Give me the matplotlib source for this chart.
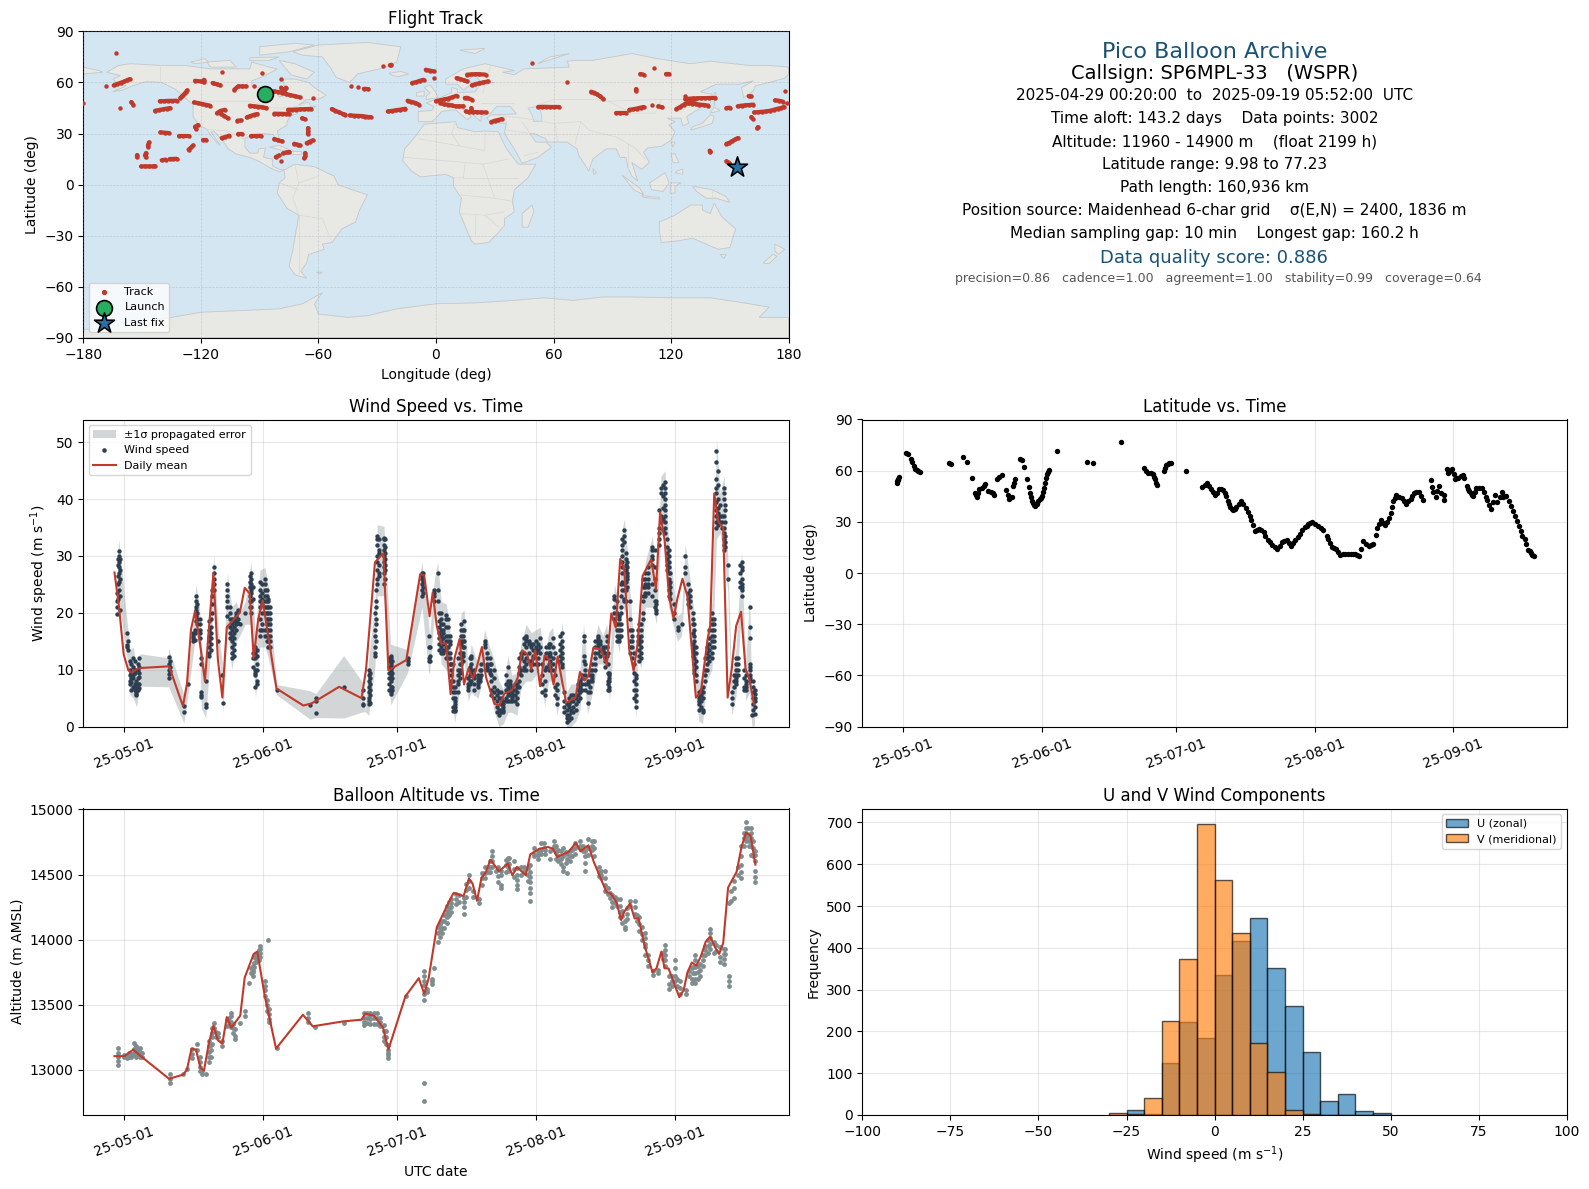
"""Pico balloon flight summary: track map, stats, wind, latitude, altitude, U/V histogram."""
from datetime import datetime, timedelta

import matplotlib
matplotlib.use("Agg")
import matplotlib.dates as mdates
import matplotlib.pyplot as plt
import numpy as np

# ---------------------------------------------------------------------------
# Data. Days count from 2025-05-01.
# ---------------------------------------------------------------------------
OCEAN = "#d4e6f1"
LAND = "#e8e8e4"
COAST = "#c4c8ca"
RED = "#c0392b"
NAVY = "#2c3e50"
GREY = "#7f8c8d"
TITLE_BLUE = "#1a5276"

land_polygons = [
    # North America
    [(-168,66),(-162,70),(-156,71),(-140,70),(-128,70),(-115,68),(-108,68),(-95,68),(-94,72),(-85,69),(-81,68),
     (-87,64),(-94,61),(-94,58),(-88,56.5),(-82,55),(-80,51.5),(-78,52),(-77,56),(-78,62),(-72,62),(-65,60),
     (-62,57),(-56,52.5),(-60,50),(-66,50),(-70,47),(-65,48.5),(-64,46),(-61,46),(-66,44),(-70,43),(-71,41.5),
     (-74,40.5),(-76,37),(-76,35),(-81,31.5),(-80,27),(-80.5,25),(-82,27),(-83,29.5),(-89,30),(-94,29.5),
     (-97.5,27),(-97.5,22),(-95,18.5),(-91,18.5),(-90.5,21),(-87,21.5),(-88,16),(-83.5,15),(-83.5,11),(-80,9),
     (-77.5,8.5),(-80,7.5),(-85,10),(-90,13.5),(-95,16),(-102,18),(-106,21),(-109,26),(-113,31),(-115,31),
     (-110,23),(-112,25),(-115,29),(-117,32.5),(-121,35),(-124,40),(-124,47),(-128,51),(-133,56),(-140,60),
     (-148,60.5),(-155,58),(-160,55.5),(-165,54.5),(-158,58),(-162,59),(-165,62),(-161,64)],
    # Arctic islands
    [(-80,73),(-72,71),(-62,66),(-66,62),(-74,64.5),(-78,70)],
    [(-117,72),(-105,73),(-102,69),(-115,69)],
    [(-90,76),(-75,78),(-62,82),(-72,83),(-90,81)],
    [(-125,72),(-118,74),(-116,72),(-123,71)],
    [(-95,74.5),(-80,75),(-85,73),(-95,73)],
    # Greenland, Iceland
    [(-73,78),(-60,82),(-35,83.5),(-18,81),(-20,72),(-27,68.5),(-40,65),(-44,60),(-51,63),(-54,69),(-58,75),(-68,76)],
    [(-24,65.5),(-18,66.5),(-14,65),(-19,63.5),(-22,64)],
    # Caribbean
    [(-85,22),(-80,23),(-74,20),(-78,20)],
    [(-74,19.5),(-69,19.5),(-69,18),(-74,18)],
    # South America
    [(-77.5,8.5),(-72,12),(-62,10.5),(-52,5),(-50,0),(-44,-2.5),(-35,-6),(-39,-15),(-41,-22),(-48,-26),(-53,-34),
     (-58,-35),(-57,-38),(-65,-41),(-66,-46),(-69,-51),(-66,-55),(-72,-53),(-75,-48),(-73,-38),(-70,-18),(-76,-14),
     (-81,-5),(-80,1),(-77,4)],
    # Africa
    [(-6,35.5),(10,37),(11,33.5),(20,31),(25,31.5),(32,31),(33,28),(36,21),(42,12),(51,12),(47,4),(40,-3),(39,-10),
     (40,-16),(35,-20),(35,-24),(32,-28),(27,-34),(20,-35),(18,-33),(14,-22),(12,-16),(13,-8),(9,-1),(9,4),(5,6),
     (-4,5),(-8,4.5),(-13,8.5),(-17,14),(-16,21),(-10,29)],
    # Eurasia
    [(-9,37),(-9,43),(-2,43.5),(-1,46),(-5,48),(2,51),(8,54),(8,57),(11,56),(11,54),(20,54.5),(22,58),(30,60),(23,60),
     (21,63),(25,65.5),(22,66),(17,62),(18,59),(14,55.5),(11,59),(5,59),(5,62),(14,68),(25,71),(40,67),(34,66),
     (40,64.5),(45,68),(68,69),(67,72.5),(72,73),(80,73),(100,77),(113,74),(130,71),(140,72.5),(160,70),(170,70),
     (180,69),(180,65),(178,62.5),(170,60),(163,58),(162,55),(157,51),(156,57),(162,61),(155,59),(143,59),(135,54.5),
     (141,53),(140,48),(132,43),(128,40),(129,36),(126,34.5),(125,39),(121,39),(118,39),(122,37),(119,35),(122,31),
     (120,26),(115,22.5),(108,21.5),(106,19),(109,13),(105,9),(100,13),(103,2),(100,5),(98,10),(97,16),(94,16),
     (92,21),(87,21),(80,15),(78,8),(73,17),(72,21),(67,25),(57,25),(56,27),(50,30),(48,30),(51,25),(56,25),(59,22),
     (52,16),(44,12.5),(40,21),(36,28),(35,31),(36,36),(28,36.5),(26,39),(28,41),(41,41.5),(38,46),(31,46),(28,42),
     (23,40),(23,37),(19,41),(13,45),(18,40),(16,38),(10,44),(3,43),(0,39),(-2,37)],
    # Russia far-east tip past the dateline
    [(-180,65),(-180,69),(-172,67),(-170,66)],
    # Europe and Asia islands
    [(-5,50),(1,51),(0,54),(-3,58.5),(-6,57),(-3,54),(-5,52)],
    [(-10,52),(-6,52),(-6,55),(-10,54)],
    [(12,79),(25,80),(20,77)],
    [(52,71),(68,77),(58,75)],
    [(130,32),(136,34),(141,36),(142,40),(140,41),(136,36),(131,34)],
    [(140,42),(145,43.5),(142,45.5)],
    [(142,46),(143,54),(142,54)],
    [(120,25),(122,25),(121,22)],
    [(120,18),(122,18),(124,13),(121,13)],
    [(122,7),(126,6),(126,9),(123,8)],
    [(95,5.5),(104,-2),(106,-6),(101,-3)],
    [(105,-6.5),(114,-7.5),(114,-8.5),(106,-7.5)],
    [(109,1),(117,7),(119,1),(116,-4),(110,-3)],
    [(119.5,-5),(120,1),(125,1),(122,-1),(122,-5)],
    [(131,-1),(141,-3),(148,-7),(150,-10.5),(143,-8),(138,-8),(133,-4)],
    [(80,9.5),(82,7),(80.5,6)],
    # Australia and neighbours
    [(114,-22),(122,-18),(130,-12),(136,-12),(136,-15),(140,-17),(142,-11),(146,-19),(153,-26),(150,-37),(144,-38),
     (138,-35),(131,-31.5),(124,-33),(115,-34),(114,-27)],
    [(145,-41),(148,-41),(147,-43.5)],
    [(173,-35),(178,-38),(175,-41),(173,-39)],
    [(172,-41),(174,-42),(170,-46.5),(167,-46)],
    [(49,-12),(50,-16),(47,-25),(44,-25),(44,-17)],
    [(-61,-51.5),(-58,-51.5),(-59,-52.4)],
    # Antarctica
    [(-180,-85),(-150,-85),(-140,-79),(-120,-75),(-100,-74),(-80,-73),(-68,-70),(-58,-63.5),(-62,-70),(-60,-76),
     (-45,-78),(-35,-77),(-20,-73),(0,-70),(20,-69.5),(40,-68),(55,-66.5),(70,-68),(85,-66),(100,-66),(120,-66.5),
     (140,-66.5),(160,-70),(170,-72),(165,-78),(180,-78),(180,-90),(-180,-90)],
]
caspian = [(47,45),(53,46),(54,40),(54,37),(50,37),(49,41)]
borders = [
    [(-141,70),(-141,60)], [(-123,49),(-95,49),(-83,45),(-75,45),(-67,47)],
    [(-117,32.5),(-106,31.5),(-97,26)],
    [(-70,-18),(-58,-20),(-53,-34)], [(-70,-18),(-73,-8),(-70,1),(-60,5)], [(-70,-18),(-70,-52)],
    [(-70,1),(-72,12)], [(-80,1),(-70,-3)],
    [(-9,27),(25,20),(25,31)], [(-16,16),(15,13),(24,12),(37,15)], [(15,13),(14,4),(9,4)],
    [(24,12),(30,-8),(40,-10)], [(14,4),(30,4),(42,4)], [(12,-6),(30,-8)], [(12,-17),(25,-18),(35,-16)],
    [(20,-29),(20,-18)], [(25,-18),(32,-25)], [(10,37),(8,30),(12,23)],
    [(28,41),(45,39),(60,36),(74,37),(78,32),(92,28),(98,24),(102,21)],
    [(47,45),(60,50),(80,50),(88,49),(115,50),(127,50),(135,48)], [(88,49),(100,42),(112,42),(115,50)],
    [(62,25),(61,35)], [(74,37),(71,24)], [(48,30),(44,37)], [(36,32),(48,30)], [(45,17),(52,19)],
    [(24,54),(28,70)], [(23,48),(40,48)], [(2,51),(8,48),(7,44)], [(14,54),(14,48)],
    [(98,24),(98,10)], [(102,21),(107,15)], [(141,-3),(141,-9)],
]

# contiguous stretches of the track, a run of one is a lone fix
track_runs = [
    [(-163.4,77.3)],[(-180,48)],[(179,48)],[(178,55)],[(-168.5,57.7)],
    [(-164.5,58.3),(-163,59),(-161,59.8),(-159,60.6),(-157.5,61.4),(-156.3,62)],
    [(-161.5,45)],[(-155.5,48.5),(-154.5,47)],
    [(-143.4,43.4),(-141.5,43.8),(-139.5,44.2),(-137.5,44.6),(-135.7,45)],
    [(-141,49),(-139,49),(-137,49.2),(-134.5,49.2),(-132.4,49.3)],
    [(-130.5,50.9),(-129.5,52),(-128.5,53.2),(-127.7,54.3),(-127,55.4)],
    [(-123.5,48.3),(-121.5,47.9),(-119.5,47.4),(-117.5,46.9),(-115.3,46.4)],
    [(-123,61),(-120,60.6)],[(-118.4,61.6),(-118.6,60)],[(-114,59.7),(-112,59),(-110,58.3)],
    [(-109,66)],[(-89,65.5)],[(-79.2,62)],[(-102.9,55.8),(-101,57.7),(-99,57.7),(-97,57.7)],[(-93,57.7)],
    [(-111.8,42),(-110,43.3),(-107.8,44)],[(-109.8,41.6),(-108,40.3),(-106.2,38.9)],[(-101.3,37.6),(-99.5,37.7)],
    [(-96.6,39.5),(-94.8,40.3),(-93,41),(-91.2,41.5)],[(-95,46.4),(-93,46),(-91,45.8),(-88.8,45.4),(-86.5,45)],
    [(-82.5,54.8),(-80.5,54.4),(-78.5,54),(-76.5,53.2),(-74.5,52.6),(-72,52),(-69.6,51.3)],[(-79,57),(-77.5,55),(-76.5,57)],
    [(-82.5,41.7),(-80.5,41.6),(-78.5,41.6),(-76.5,41.5),(-74.8,41.5)],
    [(-75.5,44),(-73.5,44),(-71.5,44.1),(-69.5,44.2),(-67.5,44.3),(-65.5,44.4),(-63.8,44.4)],
    [(-62.8,50.9)],[(-68.4,39),(-67,38.5)],[(-65.4,33),(-65.4,31.5),(-65.4,30)],[(-66,24.4),(-64.5,25.2),(-63,26)],
    [(-66.8,18.6),(-66.6,17),(-67.3,15.6)],
    [(-53.2,44.4),(-51.5,43.5),(-49.5,42.5),(-47.5,41.5),(-46.2,41.1)],
    [(-44,40.7),(-42,40.5),(-40,40.4),(-38,40.3),(-36,40),(-34.5,39.7),(-33.4,39.7)],
    [(-43.4,57.7)],[(-39.6,57.3)],[(-36.8,56.3),(-34.5,56.1)],[(-27,69.5)],[(-23.5,70.2),(-22.7,70.4)],
    [(-24.6,43),(-22.5,43.3),(-20.5,43.7),(-18.5,44),(-16.5,44.4),(-15.7,44.6)],
    [(-14.5,49.3),(-12.5,48.6),(-10.5,48),(-8.7,47)],[(-12.2,59.7),(-10.2,60.2),(-8.2,61),(-6.3,61.6)],[(-0.9,62.6)],
    [(-5.2,67.5),(-3.2,67),(-1.2,66.5)],[(0,49),(2,49.5),(4,50),(6,50.5),(8,51.2),(10.5,52.2)],
    [(2.3,48),(4,47.2),(6,47),(8,46.5),(10,46),(12,46),(14,46)],[(10.5,62.6),(12.5,62),(14.5,61.2),(16,60.6)],
    [(15.9,64.6),(18,64.7),(20,64.9),(22,64.8),(25.3,64.6)],[(18.3,58.3),(20,59),(22,59.5),(24,60),(26.5,60.6)],
    [(14.7,50.9),(16,51),(18.3,49.9)],[(15.2,43),(17,42.6),(19,42.6),(21,42.6),(23,42.4),(25.3,42.4)],[(18,45),(18.2,43)],
    [(28.3,36.8),(30,37.5),(31.8,38),(33.5,38.5)],[(49,71.4)],[(52.2,45.6),(54,45.7),(56,45.7),(58,45.6),(60,45.6),(62.8,45.6)],
    [(66.8,60)],[(79.2,54.6),(80.8,54),(82,53.2),(83.5,52),(85.5,50.3)],[(92,42),(94,42),(96.8,42)],
    [(98.7,44),(100.5,44.2),(102.5,44.7),(104.5,45.2),(106,45.6)],[(110.4,47)],[(113.5,46),(115.5,45.4)],
    [(102,56.2),(102,55)],[(104.3,65),(106,64.6)],[(111.5,68.5)],[(117.4,65),(119,65)],[(127,52)],
    [(127.3,50.3),(129.3,50.5),(131.3,50.6),(133.3,50.7),(135.3,50.8),(137.3,50.8),(139.5,50.9),(142.5,50.9)],
    [(122.7,44.4),(124.5,45.5),(126.5,47),(128.5,48.2),(130,49),(132,50)],
    [(128.4,48),(130.5,47.6),(132.5,47.4),(134.5,47),(136.8,46.8),(139,46.4)],
    [(148.3,45),(150,45.2)],[(154,46),(156,46.4),(158,46.6),(160,46.8),(162,47)],[(159.6,52),(161,51.8)],
    [(162.4,42.4),(164.5,42.6),(166.5,42.8),(168.5,43),(170.5,43.4),(172.5,44),(174.5,44.6),(176,45),(177.6,45.6)],
    [(173,49.5),(175,49.3),(177,48.8)],[(161,39.7),(161.6,38.8)],[(164.3,33.8),(164,33)],
    [(148.3,24),(149.8,24.6),(151.2,25.6),(152.8,26.6),(154.2,27.4)],[(139.7,20),(139.9,19)],[(148.3,13.7),(149.8,12.8)],
    [(-152.8,17.6),(-152.8,16.3)],[(-148,18.6),(-148.5,17.2),(-148,16)],
    [(-150.5,10.7),(-148.5,10.7),(-146.5,10.7),(-144.5,10.7),(-143.4,10.9)],
    [(-140,14.3),(-138,14.7)],[(-136,15),(-134,15.1),(-132.4,15.2)],[(-146.5,24.8),(-146.9,23.5),(-147,22.2)],
    [(-140.6,30.7),(-138.5,30.5),(-136.4,30.3)],[(-131,28.6),(-129,28.6),(-126.3,28.6)],
    [(-126.3,20.5),(-125,21.8),(-124,23)],[(-118.8,26),(-117.5,26)],[(-122.3,32.7),(-123,34),(-121.5,35)],
    [(-109.4,27.4),(-107.5,28),(-105.5,28.8)],[(-101,30),(-99,30)],[(-94.2,28.6),(-92,28.6),(-89.5,28.6)],
    [(-82.5,26.8),(-80.5,26),(-78.5,25.4)],[(-72.4,24),(-70.5,23.5),(-69.6,23)],
    [(-81.8,16.2),(-80,17.2)],[(-78,18.4),(-76,19),(-74.8,19.2)],[(-79.2,14)],
]
launch_lon, launch_lat = -87.2, 53.4
last_lon, last_lat = 153.9, 10.4

info_lines = [
    ("Pico Balloon Archive", 0.934, 0.5, 16, TITLE_BLUE),
    ("Callsign: SP6MPL-33   (WSPR)", 0.861, 0.5, 14, "black"),
    ("2025-04-29 00:20:00  to  2025-09-19 05:52:00  UTC", 0.792, 0.5, 11, "black"),
    ("Time aloft: 143.2 days    Data points: 3002", 0.715, 0.5, 11, "black"),
    ("Altitude: 11960 - 14900 m    (float 2199 h)", 0.640, 0.5, 11, "black"),
    ("Latitude range: 9.98 to 77.23", 0.567, 0.5, 11, "black"),
    ("Path length: 160,936 km", 0.491, 0.5, 11, "black"),
    ("Position source: Maidenhead 6-char grid    σ(E,N) = 2400, 1836 m", 0.417, 0.5, 11, "black"),
    ("Median sampling gap: 10 min    Longest gap: 160.2 h", 0.341, 0.5, 11, "black"),
    ("Data quality score: 0.886", 0.261, 0.499, 13, TITLE_BLUE),
    ("precision=0.86   cadence=1.00   agreement=1.00   stability=0.99   coverage=0.64", 0.195, 0.5057, 9, "#555555"),
]

# (day, values) columns of wind speed fixes
wind_columns = [
    (-1.6,[19.8,21,22,23.5]),(-1.2,[24,25.5,27,28,29,30,30.8]),(-1.4,[22.5,25,26.5,28.5,29.5]),
    (0.6,[16.4,14.4,14]),(1.3,[11.5,10,9,8,7.5]),(2,[12,10.5,9,8.5,7]),(2.7,[8,7,6,5.8,5.5]),
    (3.3,[12,10.5,9.5,8.7,7.5,6.8]),(9.9,[12.3,11,10,9.3,8.5]),(13.3,[3.6,2.6]),(14.2,[7.5]),
    (15.4,[16,15,15.5,16.4]),(16,[23,22,21,20.5,19.5,18.5]),(16.8,[19,18,17,16.5,15.5]),
    (17.2,[12,11,6,5.5,5.2]),(18.2,[8,4,3.5]),(19,[18.5,17,16,15,14,13,12.5]),(19.6,[24,23,21.5,20]),
    (20,[28,27,26,25,24]),(21,[15]),(21.9,[9]),(22,[4.2]),(23,[25,24,23,22,21,19.5]),
    (24,[19,18,17,16,15,14,13,12]),(25,[20,19.5,18.5,18,17]),(25.8,[18]),(27,[20]),
    (28.3,[27,26,25,24,23.5,22,21,20]),(29.3,[14,13,12,10,9.5,9,7]),(30.3,[25.5,24,23,22,21,19,17,16]),
    (31.4,[26,25,24,23,22,21,20,17,16]),(32.2,[22.5,22,21,20,19,18,17,16,15,14]),(34,[6.5]),(41.5,[3.8]),
    (42.8,[4.5,5,2.4]),(49,[7]),(53.3,[6.5,5,4,3.8]),(54.6,[10,9,8,7,6,5,4.5,4]),(56,[20,17,16,14,13,12.5]),
    (56.5,[33.5,33,32,30,29,27.5,26,25]),(58,[33.2,33,32,31,30,29,28,27,25]),(59.5,[12.5,12,11,10,9,8,7,6,5.8]),
    (63.3,[12,11.5,11]),(66.5,[27,26.5,26,25,24,23]),(68,[16,14,12,11.5]),(68.2,[14,12.5,11.5]),
    (69.3,[24,23.5,23,22]),(70,[27,24,22]),(70.8,[20,19,18,17,16,15,14,13]),(71.9,[19.6,19,17.5,16,15,14,13.5,12]),
    (72.7,[16,15,14.5,13,12,11]),(73,[11,10,9,8]),(73.8,[7,6,5,4.5,4,3.5,3,2.7]),(74.5,[12,10,9,8,7.5,6]),
    (75.3,[18,17,16,15,14.5,13,12,11]),(75.9,[18.5,17,15,14]),(76.8,[8.5,7.5,7,6.5]),(77.5,[12.5,12,11,10,9.5,9,8]),
    (79,[9,8.5,8,7,7.5]),(79.7,[11,10,9]),(80.5,[15,14.5,14]),(81.6,[12,11,10,9.5]),(82.5,[10,8.5,7,6,5]),
    (83.7,[6,5,3,2]),(84.7,[4.5,4,3.5,3,2.5]),(85.7,[10.5,8,7,6,5.5,4.5]),(86.6,[7,6.5,6,5.5,5,4.5]),
    (87.7,[7.5,7,6,5,4]),(88.7,[13,12.5,12,10,9]),(89.8,[16,15.5,15,14,12,11,10]),(90.9,[14.5,14,11.5,10]),
    (91.9,[15,14,13.5,13,11]),(92.9,[15.5,14,13]),(93.9,[10,8,6.5,5.5]),(94.8,[14.5,14,13,12.5,11,10]),
    (95.7,[15.5,14,12,11,10]),(96.7,[7.5,6.5,5,4]),(97.8,[16.5,15,14,13,12,11,10.5]),(98.8,[4,3,2,1.5,0.8]),
    (99.8,[5.5,4.5,3,2.5,1.5]),(100.9,[5.5,5,4,3]),(101.8,[8,7,6,5]),(102.6,[16,15,12.5,11.5]),(103.5,[8,7.5,6,4.2]),
    (104.6,[11,10,9,8.5,8]),(105.8,[16,15.5,15,14.5,14,13]),(106.9,[14,13.5,13]),(107.8,[16,15,14,12.5]),
    (108.4,[9.5,9,8.5,8,7,6.5]),(109.5,[23,22.5,21,20,19]),(110.6,[19.5,19,18,17,16,15.5,15]),
    (111.3,[33,32,31,30,29,28,27,25.5,24]),(111.7,[34.5,33.5,32.5,25,24,22.5,22]),(112.4,[29,28,27,26.5,26,24.5]),
    (113.4,[17,16,15,14,12]),(114.3,[9,8.5,7.5,6.5,5.5,4.5,3.5]),(114.7,[17,16,15]),(115.4,[18,17,16,15,14,13,12]),
    (116.4,[27,26,25,24.5,23.5,23]),(118,[31.5,31,30,29.5,28.5,25,23]),(118.9,[22,21.5,20.5,20]),(119.9,[42,41,37,36]),
    (120.8,[43,42,41,40,39,38,37,36,35,34]),(121.6,[31,30,29,28,27,26,25,24,23]),(122.9,[21.5,20,19]),(123.6,[17.5,17]),
    (124.5,[18]),(125.3,[30,28,27]),(126.4,[24,23,22,21]),(127.3,[18,17,16,15,14,13,12,11,10,9.5]),
    (128.4,[6,5.5,5,4.5,4,3]),(129.2,[7,6,5,3,2.5]),(130.1,[14,13,12,11,10]),(131.3,[20,19,18,17,16,15,14,13,12]),
    (132.3,[48.5,46.5,43.5,42,41,39.5,38,37,36,35]),(133.1,[39,37,36]),(134,[42,41,40,37,35,34,33,32,31]),
    (134.8,[28.5,26]),(135.7,[6,5,4]),(136.7,[12,11,10,9,8.5,8,7.5]),(137.9,[29,28,27.5,26,25,24.5,24,23]),
    (138.8,[9,8,7.5,7,6.5]),(139.7,[21,17.5,15.5,11,10.5,10,9,8.5,8]),(140.2,[2.1]),(140.8,[6.5,5.8,5,4.5,3.5,2.2]),
]
# more fixes in between the columns above, dots only
wind_columns_more = [
    (-1.0,[20.5,23,26,27.5,29.5]),(0.9,[15,13.5]),(1.6,[11,9.5,8.5,7.8,6.5]),(2.3,[11.5,10,9.5,7.5,6.5]),(3,[11,10,8.5,7.5,6.5]),
    (10.2,[11.5,10.5,9.7]),(15.7,[17,16.5,15.3]),(16.3,[21.5,20,19,18]),(19.3,[19,17.5,16.5,15.5,14.5,13.5]),
    (23.5,[21,20,19,17.5,16.5,15.5]),(24.5,[19,18.5,17.5,16.5,15.5,14.5,13.5,12.5]),(25.4,[20.5,19,18.2]),
    (28,[26.5,25.5,24.5,23,22,21]),(28.8,[24.5,22.5,13,12,10.5]),(29.7,[13.5,12.5,11,10,8,7.5]),(30.8,[25,23.5,22.5,21.5,20,18,17]),
    (31.8,[24,23,22,21,20,19,18,17,16,15]),(32.6,[21,20,19,18,17,16,15,14]),(55,[9.5,8.5,7.5,6.5,5.5,4.2]),(56.2,[24,22,21,19,18,15]),
    (56.8,[33,31,30.5,28.5,27,26.5]),(58.3,[33,31.5,30.5,29.5,28.5,27.5,26]),(59.2,[12,11.5,10.5,9.5,8.5,7.5,6.5]),
    (59.8,[11.5,10.5,9.5,8.5,7,6.5]),(66.8,[27,25.5,24.5,23.5]),(70.4,[20,18.5,17.5,16.5,15.5,14.5,13.5]),
    (71.3,[18,17,16.5,15.5,14.5,13.5,13]),(72.3,[19,17.5,16,15,14,13,12]),(73.4,[11,8,7,6,5,3.5,2.8]),(74.9,[13,11,10,9.5,8.5]),
    (75.6,[17,16,15,14,13,12.5,11.5]),(77.2,[12,10.5,9,7.5,8]),(78.2,[10,9,8.5,7.5,6.5]),(79.4,[10,8.5,8]),(81.1,[13,12,11,10.5,10]),
    (82,[11,9,8,6.5,5.5]),(83.2,[6.5,5.5,4.5,3.5,2.5]),(84.2,[6,5,4,3,2.5]),(85.2,[9,7.5,6.5,5,4.5]),(86.2,[8,7.5,6.5,5.5,4.5]),
    (87.2,[7.5,6.5,5.5,4.5]),(88.2,[12,10.5,9.5,8,7]),(89.3,[15.5,14.5,13,11.5,10.5,10]),(90.4,[15,14.5,13,11.5]),
    (91.4,[14.5,13.5,12.5,12,11]),(92.4,[14.5,13.5,12,11]),(93.4,[11,9,7.5,6]),(94.3,[14,13,12,10.5]),(95.2,[14.5,13,12.5,11.5,10.5]),
    (96.2,[13,9,7,5.5]),(97.3,[16,14.5,13.5,12.5,11.5]),(98.3,[6,4.5,3.5,2.5]),(99.3,[5,4,3.5,2,1.2]),(100.3,[5.5,4.5,3.5,2.5]),
    (101.3,[7.5,6.5,5.5,4.5]),(102.2,[9,8.5,7.5,6.5]),(103,[11,10,9,7.5,6.5]),(104,[10,9,8,7,6]),(105.2,[15,14,13,12,11,10]),
    (106.3,[15,14.5,13.5,12.5]),(107.3,[14,13,12,11.5,10.5]),(108,[13,11,9.5,8,7.5,6.5]),(110,[22,20,18,17,16,15]),
    (111,[25,23,21,20,18,17,16]),(112,[30.5,29.5,28.5,27.5,25.5,24,22]),(113,[22,19,17,15,14,13]),(113.8,[13,11,9.5,8,6.5,5]),
    (115,[18,15.5,14.5,13.5,12.5,11.5]),(115.9,[26,24.5,23,22,20,19]),(117,[28,27,26,25,24.5,23.5]),(118.5,[31,28,26,24,22,21]),
    (119.5,[38,35,34,33,32]),(120.3,[42.5,40.5,38.5,36.5,34.5]),(121.2,[33,31.5,30.5,29.5,28.5,27.5]),(122,[27,25.5,24.5,23.5,22.5]),
    (126,[25,23.5,22.5,21.5]),(127,[20,19,18,16.5,14.5,13.5,12.5]),(127.7,[14,13,11.5,10.5,9,8]),(128.8,[6.5,5.5,4.5,3.5]),
    (129.7,[12,10,9,8]),(130.7,[17,15.5,14.5,13.5,12.5,11.5]),(131.7,[19,18,17,16,15,14]),(132.6,[45,42.5,40,38.5,37.5,36.5,35.5]),
    (133.5,[37,36,35]),(134.3,[39,38,36,33.5,32.5,31.5]),(136.2,[9,8,7]),(137.2,[12,11,10,9]),(137.6,[28.5,27,25.5,24.5]),
    (138.4,[10,8.5,7,6.5]),(140.4,[8,7,6,5,4,3]),
]
wind_err_default = 2.0
wind_err_override = {3.3: 0.6, 9.9: 1.5, 34: 0.9, 41.5: 2.5, 42.8: 0.8, 49: 5.5, 53.3: 1.2, 63.3: 1.5}
# band-only knots across the gaps (day, low, high)
wind_band_extra = [(3.7,7.1,12.8),(9.8,7,12.1),(53.8,2.6,2.6)]

wind_mean_days = [-2.2,-1.2,-0.15,0.9,1.7,2.8,3.6,10,13.1,14,14.9,15.8,16.9,18,18.7,19.9,20.9,21.9,22.9,25.8,26.9,28,28.9,29.9,30.9,34,40,41.9,48,53,54,56,57.9,59,63,66.1,67,68.2,68.9,69.8,70.8,71.9,72.9,73.8,74.9,75.9,76.9,77.9,78.8,79.9,80.8,82.7,83.8,84.9,86.6,87.9,88.9,90,90.9,91.8,92.9,93.9,94.8,95.9,96.8,98.7,100.8,101.8,102.8,103.7,104.8,106.5,107.8,108.8,109.8,110.8,111.7,112.8,113.8,114.7,115.8,117.7,118.8,119.7,120.7,121.7,122.7,123.6,124.7,125.8,127.7,128.8,130.3,130.9,131.8,132.7,133.8,134.8,135.7,136.7,137.8,138.8,139.6,140.7]
wind_mean_vals = [27.1,21.2,12.7,9.9,9.5,10.1,10.3,10.6,3.6,7.6,17.1,20.3,14.7,8,15.3,27,11.8,5.1,17.5,20,24.4,23.4,12.1,18.8,22.2,6.7,3.7,4.1,7,5,10,28.9,30.5,9.9,11.7,26.8,26.6,19.4,23.6,17.7,14.6,14.6,5.7,12.1,15.4,7.4,10.2,8.4,10.6,14,8.7,4,3.7,5.8,6.4,8.6,13.4,12.7,10.1,13.4,7.1,12.5,11.9,7.4,12.3,4.2,5.1,9.6,8.1,8.9,13.9,13.6,10.8,19.9,17.4,29.5,27.6,13.6,9.8,14.7,26.5,29.4,24.1,37.7,32.9,22.9,19.1,22.6,26,22.9,5.1,6,15.3,17.7,41,36.1,34.9,5.1,10.1,17.7,20.2,10.1,8.6,3.9]

lat_days = [-1.5,-1.3,-1,0.7,1,1.7,2.4,2.7,3.2,3.7,10.3,10.6,13.3,14.3,15.3,16.1,16.4,17,17.6,18.3,19,20,20.2,21,22,23,23.7,24.2,24.5,25,26,26.6,27,28,28.5,28.9,29.5,29.8,30.5,31,31.4,31.7,32.2,32.6,34.4,41,42.5,48.8,53.8,54.8,55.8,56.4,56.8,58.4,58.8,59.4,59.8,63.3,66.9,68,68.9,69.8,70.6,71.6,71.9,72.6,73.1,73.8,74.4,75.6,76.7,77.6,77.8,78.6,79.6,80.6,81.5,82.5,83.7,84.7,85.8,86.7,87.7,88.7,89.8,90.6,91.5,92.8,94,94.7,94.9,95.9,96.9,97.7,98.9,100.1,101.1,102,102.9,104.1,105.1,105.7,106,106.8,107.8,108.6,109,109.6,110.3,111.6,112.5,113.5,114.3,115.3,116.3,118,118.2,119.1,119.9,120.9,121,121.7,121.9,122.7,123.5,124.2,125.2,125.5,126.4,126.9,127.5,128.2,129.4,130.4,130.6,131.4,132.3,132.9,133.9,134.1,134.9,135.9,136.9,137.8,138.1,139,139.8,140.4,141.1,
            -1.2,-1.4,2,3,16.2,16.7,18,19.5,21.5,23.3,24.8,27.6,28.3,28.7,29.2,30.2,30.7,31.2,32,32.4,54.3,55.3,56.1,56.6,58.6,59.1,67.5,68.4,69.3,70.2,71,72.2,72.9,73.5,74.1,75,76.1,77.1,78.2,79.1,80.1,81,82,83.1,84.2,85.2,86.2,87.2,88.2,89.2,90.2,91,92.1,93.4,95.4,96.4,97.3,98.3,99.5,100.6,101.6,102.4,103.5,104.6,106.4,107.3,108.2,109.3,110,111,112,113,113.9,114.8,115.8,118.6,119.5,120.4,122.3,123.1,123.9,124.7,126,126.6,127.2,127.8,128.8,129.9,131,131.9,133.4,134.5,135.4,136.4,137.3,138.5,139.4,140.1,140.7]
lat_vals = [53,54.5,56.3,70.4,69.6,67,62.7,61.2,59.8,59.2,64.3,64.2,68.2,65.3,55.9,47,44.7,49,50,52.4,48,47,45.5,55.3,57.6,48.4,43.5,44.7,51,55.3,66.7,66,62,50.6,44.5,41.2,39.2,40.2,43.5,45,50,53,57.8,60.4,71.8,65.3,64.7,77,61.6,58.8,57.8,54.9,51.4,59.8,63.1,64.7,64.7,60,50.6,52.5,49.4,45.5,49.4,48.6,46.7,42.2,38.8,36.7,38.8,42.2,38.2,33.3,31,24.5,25.9,23.9,19.2,16.7,14.1,18.2,19.2,15.7,19.2,23.1,27,28.5,30,27.5,25.5,22,20,15.3,14.1,10.8,11.4,11,11.2,10.2,18.6,16,17,22.5,26.5,31,28,32.4,35.3,42.2,45.5,44.1,40.6,43.5,47,47.5,42.7,54.5,50.6,44.7,51,42.7,45.5,60.8,58.4,61.2,55.3,55.9,57.5,55.9,49,46.7,45,50,50,44.7,42.7,37.3,45.7,41.8,47.6,44.7,45,39.2,33.7,27.5,24.5,20,13.7,11.8,9.8,
            55,54,65,60.5,46,47,51,47.3,56.5,46,53,55,47,42.5,40,42,44,47.5,56,59,60,58.4,56.5,53,61.5,64,51.5,51,47.5,47,49.3,45,40.5,37.7,37.5,40.5,40.3,36,28,25,25,21.5,18,15.4,16,18.8,17.5,17.5,21,25,27.8,29.4,28.8,26.5,17.5,14.7,12.5,11,11.2,11.1,10.7,14,17.3,16.5,29,29.5,30,39,44,44.8,42.3,42,45.2,47.3,45,47.5,48,46.8,59.8,58.2,55.6,56.7,51,47.8,45.8,47.5,50,47.3,40,41.5,44.5,45,42,36.4,30.6,22,16.8,12.7,10.8]

alt_columns = [
    (-1.4,[13168,13130,13100,13065,13035]),(0.5,[13105,13090]),(1.5,[13120,13100]),(2.2,[13205,13160,13130,13110]),
    (3,[13160,13135,13110]),(3.4,[13165,13140,13110,13095]),(10.2,[12965,12930,12900]),(13,[12965]),(14,[13005]),
    (15.2,[13160,13120,13090]),(16.2,[13200,13150]),(16.9,[13100,13060,13020,12990]),(17.4,[12965,12990]),(18.2,[12965]),
    (19,[13100,13060,13140,13180,13220]),(19.6,[13320,13280,13250,13200]),(20.1,[13360,13320]),(21,[13280,13250]),
    (21.9,[13180,13220]),(23,[13340,13380]),(23.8,[13440,13410,13370,13330]),(24.8,[13310,13260,13240]),(25.8,[13360]),
    (27,[13410,13450]),(27.9,[13670]),(28.7,[13800,13770,13750,13720]),(29.4,[13880,13850,13830]),(30.3,[13950,13930,13900,13870]),
    (32,[14000]),(31.5,[13680,13640,13610,13570]),(32.3,[13470,13430,13390,13370]),(34,[13165]),(41,[13440,13400,13370]),
    (42.5,[13330]),(49,[13360]),(53.5,[13440,13400,13370,13345]),(55,[13440,13420,13390,13350]),(56.5,[13440,13400,13350]),
    (58,[13345,13300,13250,13220]),(59,[13190,13150,13130,13110,13090]),(62.9,[13565]),
    (66.9,[13760,13720,13680,13650,13580,13540,12900,12760]),(67.7,[13600,13620]),(68.7,[13700,13680,13660]),(69.3,[13780]),
    (70,[14050,13980,14100]),(71,[14140,14090,14050]),(72,[14260,14220,14170,14130,14200]),(73,[14310,14280,14250,14210]),
    (75.9,[14290,14250,14200,14320]),(77,[14500,14450,14400]),(78,[14370,14330]),(79.2,[14280,14310]),(80,[14420,14470,14510]),
    (81.2,[14520,14560]),(82.1,[14680,14640,14600,14560]),(83,[14530]),(84.2,[14530,14500,14420,14400]),
    (85.7,[14630,14590,14560,14530]),(86,[14630,14580]),(87.7,[14500,14460,14420,14390,14550]),(89.3,[14560,14530]),
    (90.7,[14570,14520,14480,14440,14400,14360,14300]),(91.6,[14700,14660,14640]),(92.5,[14620,14650,14680]),(93.8,[14740,14700]),
    (95,[14620,14680]),(95.9,[14760,14720,14700]),(97,[14690,14640,14600]),(98,[14700,14640,14560,14530]),(99,[14660,14620,14510]),
    (100,[14690,14640]),(101.9,[14760,14720,14700]),(103,[14680,14640,14590,14530]),(104.5,[14760,14720,14690]),
    (105,[14760,14700,14640]),(106.5,[14530,14500,14470]),(107.4,[14530,14470,14420,14370]),(108,[14400,14350]),
    (109,[14340,14290,14250]),(110,[14310,14260]),(110.7,[14310,14260,14210,14170]),(111.8,[14140,14100,14080]),(113,[14300,14260]),
    (114,[14300,14250,14200]),(115,[14170,14120,14070]),(116.4,[14050,14010,13970,13940,13880]),(118.2,[13730,13760]),
    (119.2,[13740,13770]),(120.9,[13960,13920,13880,13840,13800]),(121.6,[13660,13620,13720]),(123,[13840,13780,13720,13680]),
    (124.2,[13680,13630,13580]),(125.4,[13580,13610]),(126.8,[13670,13700,13780]),(127.6,[13880,13840,13790,13740,13700,13670]),
    (128.6,[13720,13770,13810]),(129.8,[13950,13920,13880]),(130.8,[14080,14050,14010,13970,13930]),(131.8,[13980,13900]),
    (133,[13870,13830,13940]),(133.9,[13810,13850,13890,13930]),(135,[13640,13680,13720,14280]),(136.2,[14320,14400,14450]),
    (137.8,[14720,14640,14570,14520,14470]),(138.9,[14900,14860,14820,14780,14760]),(139.6,[14760,14720]),
    (140,[14860,14820,14780,14720,14650]),(141,[14680,14650,14600,14530,14480,14440]),
    (0,[13110,13095]),(1,[13130,13095]),(2.7,[13180,13150,13120,13095]),(3.9,[13130,13100]),(19.3,[13190,13150,13100]),(20.4,[13290,13250]),
    (23.4,[13400,13350]),(24.3,[13350,13320,13280]),(28.3,[13780,13740]),(29,[13870,13820,13790]),(30,[13920,13880,13840]),(31.8,[13540,13500,13450]),
    (54.2,[13440,13400,13360]),(55.8,[13440,13400,13350]),(57.2,[13400,13370,13340]),(58.5,[13300,13250,13200]),(70.5,[14120,14070,14020]),
    (71.5,[14190,14140,14090]),(72.5,[14290,14240,14190]),(74,[14350,14310,14270]),(74.8,[14340,14290]),(76.3,[14430,14380,14330]),
    (80.5,[14560,14510,14470]),(81.7,[14600,14560,14520]),(83.5,[14560,14490,14440]),(85.2,[14610,14570,14520]),(87.1,[14600,14540,14480]),
    (88.7,[14560,14500]),(90.2,[14550,14500,14450]),(93,[14740,14690,14660]),(94,[14690,14660]),(96.4,[14720,14670,14620]),
    (97.5,[14680,14620,14580]),(98.6,[14670,14590]),(99.6,[14680,14640,14600]),(100.6,[14740,14700,14660]),(102.5,[14720,14680]),
    (103.6,[14770,14700,14650]),(106,[14560,14520,14490]),(108.5,[14360,14320]),(109.6,[14330,14280]),(111.3,[14220,14180,14130]),
    (112.4,[14240,14200,14160]),(114.5,[14190,14140]),(115.6,[14100,14040,14000]),(117,[13880,13840,13800]),(120.4,[13900,13850]),
    (122.3,[13720,13680,13640]),(123.5,[13700,13640]),(126.2,[13760,13720]),(127.1,[13790,13740,13690]),(128.1,[13800,13750,13700]),
    (129.2,[13880,13840,13800]),(130.3,[14000,13950,13900]),(132.3,[13960,13910]),(134.2,[13890,13930]),(135.6,[14300,14370]),
    (137.2,[14560,14500]),(138.4,[14820,14780,14720]),(139.3,[14860,14800]),(140.5,[14760,14700,14640]),
]
alt_mean_days = [-2.2,0,2,3.5,10,13.2,14,15,16,17,17.8,18.9,19.9,20.9,21.9,22.9,23.9,25.9,26.9,28.9,29.7,31.4,33.9,39.9,42.1,48.9,53,53.8,55.8,57.8,59,62.8,65.8,67,68,69.8,72.8,73.6,75.8,77,77.8,78.8,79.8,80.8,81.8,83.7,85.7,86.7,87.7,89.7,90.7,92.7,94.7,95.7,96.7,99.2,100.9,101.9,103.7,104.9,107.7,108.7,110,111,111.7,113,114,114.9,116.2,118,118.9,120,120.7,121.6,124,125,125.8,126.8,127.8,128.8,129.9,130.9,131.9,132.9,133.8,134.9,136.8,137.9,138.9,139.9,141]
alt_mean_vals = [13105,13105,13155,13110,12931,12964,13003,13161,13156,13015,12995,13207,13339,13227,13201,13405,13324,13416,13709,13890,13908,13563,13163,13423,13334,13372,13385,13431,13416,13324,13155,13564,13704,13584,13704,14094,14311,14359,14334,14469,14431,14298,14474,14520,14614,14525,14584,14494,14558,14494,14655,14698,14711,14698,14635,14673,14742,14678,14724,14596,14367,14354,14283,14150,14214,14278,14163,14163,13959,13750,13780,13908,13780,13778,13558,13615,13747,13824,13801,13870,13984,14023,13946,13890,13972,14400,14520,14711,14821,14800,14576]

hist_edges = list(range(-30, 55, 5))
u_counts = [0,13,2,124,222,184,334,417,472,351,262,150,33,50,10,4]
v_counts = [4,3,40,225,374,696,562,435,172,102,12,3,0,0,0,0]

date_ticks = [datetime(2025,5,1), datetime(2025,6,1), datetime(2025,7,1), datetime(2025,8,1), datetime(2025,9,1)]
X_START = datetime(2025,4,21,20)
X_END = datetime(2025,9,26,10)


def to_dates(days):
    base = datetime(2025, 5, 1)
    return [base + timedelta(days=float(d)) for d in days]


def flatten(columns):
    xs, ys = [], []
    for day, vals in columns:
        xs.extend([day] * len(vals))
        ys.extend(vals)
    return xs, ys


def wind_band():
    knots = list(wind_band_extra)
    for day, vals in wind_columns:
        err = wind_err_override.get(day, wind_err_default)
        knots.append((day, min(vals) - err, max(vals) + err))
    knots.sort()
    return [k[0] for k in knots], [max(k[1], 0) for k in knots], [k[2] for k in knots]


def style_time_axis(ax):
    ax.set_xlim(X_START, X_END)
    ax.set_xticks(date_ticks)
    ax.xaxis.set_major_formatter(mdates.DateFormatter("%y-%m-%d"))
    ax.tick_params(axis="x", rotation=20)
    ax.grid(True, alpha=0.3)


W, H = 1589, 1189
plt.rcParams["axes.titlepad"] = 5.3
fig = plt.figure(figsize=(W / 100, H / 100), dpi=100)


def axes_at(left, top, right, bottom):
    return fig.add_axes([left / W, 1 - bottom / H, (right - left) / W, (bottom - top) / H])


COL1 = (83.3, 788.6)
COL2 = (862.4, 1566.7)
ROW1 = (31.4, 337.8)
ROW2 = (419.5, 726.6)
ROW3 = (808.5, 1115)

# --- map -------------------------------------------------------------------
ax_map = axes_at(COL1[0], ROW1[0], COL1[1], ROW1[1])
ax_map.set_facecolor(OCEAN)
for poly in land_polygons:
    xs, ys = zip(*poly)
    ax_map.fill(xs, ys, facecolor=LAND, edgecolor=COAST, linewidth=0.6, zorder=1)
xs, ys = zip(*caspian)
ax_map.fill(xs, ys, facecolor=OCEAN, edgecolor=COAST, linewidth=0.5, zorder=1.1)
for line in borders:
    xs, ys = zip(*line)
    ax_map.plot(xs, ys, color="#d8d9d6", linewidth=0.5, zorder=1.2)
for run in track_runs:
    xs, ys = zip(*run)
    ax_map.plot(xs, ys, "-o", color=RED, linewidth=3.0, markersize=3.2, markeredgewidth=0,
                solid_capstyle="round", zorder=3)
ax_map.scatter([], [], s=8, color=RED, label="Track")
ax_map.scatter([launch_lon], [launch_lat], s=130, color="#27ae60", edgecolor="black", linewidth=1.2, zorder=5, label="Launch")
ax_map.scatter([last_lon], [last_lat], s=230, marker="*", color="#2471a3", edgecolor="black", linewidth=1.2, zorder=5, label="Last fix")
ax_map.set_xlim(-180, 180)
ax_map.set_ylim(-90, 90)
ax_map.set_xticks(range(-180, 181, 60))
ax_map.set_xticklabels(["−180", "−120", "−60", "0", "60", "120", "180"])
ax_map.set_yticks(range(-90, 91, 30))
ax_map.grid(True, alpha=0.35, linewidth=0.5, linestyle="--", color="#8a9aa5", zorder=2)
ax_map.set_axisbelow(False)
ax_map.set_xlabel("Longitude (deg)", labelpad=5)
ax_map.set_ylabel("Latitude (deg)")
ax_map.set_title("Flight Track")
leg = ax_map.legend(loc="lower left", fontsize=8, labelspacing=0.48, borderpad=0.4)
leg.set_zorder(6)

# --- summary text ----------------------------------------------------------
ax_info = axes_at(COL2[0], ROW1[0], COL2[1], ROW1[1])
ax_info.axis("off")
for text, y, x, size, color in info_lines:
    ax_info.text(x, y, text, transform=ax_info.transAxes, ha="center", va="center", fontsize=size, color=color)

# --- wind speed ------------------------------------------------------------
ax_wind = axes_at(COL1[0], ROW2[0], COL1[1], ROW2[1])
band_days, band_lo, band_hi = wind_band()
ax_wind.fill_between(to_dates(band_days), band_lo, band_hi, color=GREY, alpha=0.35, linewidth=0, label="±1σ propagated error")
wx, wy = flatten(wind_columns + wind_columns_more)
ax_wind.scatter(to_dates(wx), wy, s=10, color=NAVY, linewidths=0, zorder=3)
ax_wind.scatter([], [], s=5, color=NAVY, label="Wind speed")
ax_wind.plot(to_dates(wind_mean_days), wind_mean_vals, color=RED, linewidth=1.5, zorder=4, label="Daily mean")
style_time_axis(ax_wind)
ax_wind.set_ylim(0, 54)
ax_wind.set_ylabel("Wind speed (m s$^{-1}$)")
ax_wind.set_title("Wind Speed vs. Time")
ax_wind.legend(loc="upper left", fontsize=8)

# --- latitude --------------------------------------------------------------
ax_lat = axes_at(COL2[0], ROW2[0], COL2[1], ROW2[1])
ax_lat.scatter(to_dates(lat_days), lat_vals, s=15, color="black", linewidths=0, zorder=3)
style_time_axis(ax_lat)
ax_lat.set_ylim(-90, 90)
ax_lat.set_yticks(range(-90, 91, 30))
ax_lat.set_ylabel("Latitude (deg)")
ax_lat.set_title("Latitude vs. Time")

# --- altitude --------------------------------------------------------------
ax_alt = axes_at(COL1[0], ROW3[0], COL1[1], ROW3[1])
ax, ay = flatten(alt_columns)
ax_alt.scatter(to_dates(ax), ay, s=12, color=GREY, linewidths=0, zorder=3)
ax_alt.plot(to_dates(alt_mean_days), alt_mean_vals, color=RED, linewidth=1.5, zorder=4)
style_time_axis(ax_alt)
ax_alt.set_ylim(12653, 15007)
ax_alt.set_yticks(range(13000, 15001, 500))
ax_alt.set_xlabel("UTC date")
ax_alt.set_ylabel("Altitude (m AMSL)")
ax_alt.set_title("Balloon Altitude vs. Time")

# --- U / V histogram -------------------------------------------------------
ax_hist = axes_at(COL2[0], ROW3[0], COL2[1], ROW3[1])
edges = np.array(hist_edges[:-1])
ax_hist.bar(edges, u_counts, width=5, align="edge", color="tab:blue", alpha=0.65, edgecolor="black", label="U (zonal)", zorder=3)
ax_hist.bar(edges, v_counts, width=5, align="edge", color="tab:orange", alpha=0.65, edgecolor="black", label="V (meridional)", zorder=3)
ax_hist.set_xlim(-100, 100)
ax_hist.set_ylim(0, 733.5)
ax_hist.grid(True, alpha=0.3)
ax_hist.set_xlabel("Wind speed (m s$^{-1}$)")
ax_hist.set_ylabel("Frequency")
ax_hist.set_title("U and V Wind Components")
ax_hist.legend(loc="upper right", fontsize=8)

fig.savefig("out.png", dpi=100)
